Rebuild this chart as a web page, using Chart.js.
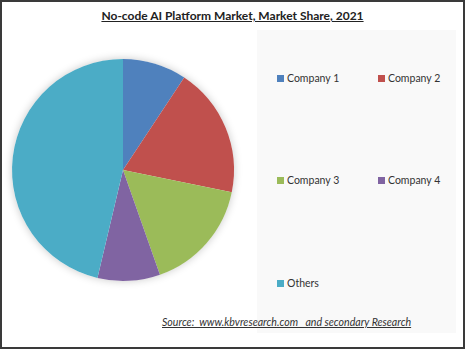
<!DOCTYPE html>
<html lang="en">
<head>
    <meta charset="UTF-8">
    <title>No-code AI Platform Market, Market Share, 2021</title>
    <script src="https://cdn.jsdelivr.net/npm/chart.js"></script>
    <style>
        body { margin: 0; background: #fff; font-family: Lato, "Liberation Sans", sans-serif; }
        .frame {
            position: relative; width: 461px; height: 345px;
            border: 2px solid #3a3a3a; background: #fff; overflow: hidden;
        }
        .title {
            position: absolute; left: 0; width: 461px; top: 6px; text-align: center;
            font-size: 12px; font-weight: bold; color: #222; text-decoration: underline;
        }
        .panel { position: absolute; left: 255px; top: 28px; width: 199px; height: 303px; background: #f9f9f9; }
        #pie { position: absolute; left: -4px; top: 43px; }
        .legend-item { position: absolute; font-size: 10.5px; color: #333; white-space: nowrap; }
        .legend-item span { display: inline-block; width: 7px; height: 7px; margin-right: 3px; vertical-align: 0px; }
        .source {
            position: absolute; left: 160px; top: 314px; font-size: 10.6px; font-style: italic;
            text-decoration: underline; color: #333; white-space: nowrap;
        }
    </style>
</head>
<body>
    <div class="frame">
        <div class="panel"></div>
        <div class="title">No-code AI Platform Market, Market Share, 2021</div>
        <canvas id="pie" width="250" height="250"></canvas>
        <div id="legend"></div>
        <div class="source">Source:&nbsp; www.kbvresearch.com&nbsp;&nbsp; and secondary Research</div>
    </div>

    <script>
        // Datos del grafico
        const companies = ['Company 1', 'Company 2', 'Company 3', 'Company 4', 'Others'];
        const shares = [9.3, 18.9, 16.4, 9.1, 46.3];
        const colors = ['#4F81BD', '#C0504D', '#9BBB59', '#8064A2', '#4BACC6'];

        // sombra suave debajo del pastel
        const pieShadow = {
            id: 'pieShadow',
            beforeDatasetsDraw(chart) {
                const arc = chart.getDatasetMeta(0).data[0];
                if (!arc) return;
                const ctx = chart.ctx;
                ctx.save();
                ctx.shadowColor = 'rgba(0,0,0,0.22)';
                ctx.shadowBlur = 8;
                ctx.beginPath();
                ctx.arc(arc.x, arc.y, arc.outerRadius, 0, Math.PI * 2);
                ctx.fillStyle = '#fff';
                ctx.fill();
                ctx.restore();
            }
        };

        new Chart(document.getElementById('pie'), {
            type: 'pie',
            data: {
                labels: companies,
                datasets: [{ data: shares, backgroundColor: colors, borderWidth: 0 }]
            },
            options: {
                responsive: false,
                animation: false,
                layout: { padding: 14 },
                plugins: { legend: { display: false }, tooltip: { enabled: false } }
            },
            plugins: [pieShadow]
        });

        // Leyenda en dos columnas
        const legend = document.getElementById('legend');
        const colX = [275, 376];
        const rowY = [70, 172, 275];
        companies.forEach((name, i) => {
            const item = document.createElement('div');
            item.className = 'legend-item';
            item.style.left = colX[i % 2] + 'px';
            item.style.top = rowY[Math.floor(i / 2)] + 'px';
            item.innerHTML = `<span style="background:${colors[i]}"></span>${name}`;
            legend.appendChild(item);
        });
    </script>
</body>
</html>
